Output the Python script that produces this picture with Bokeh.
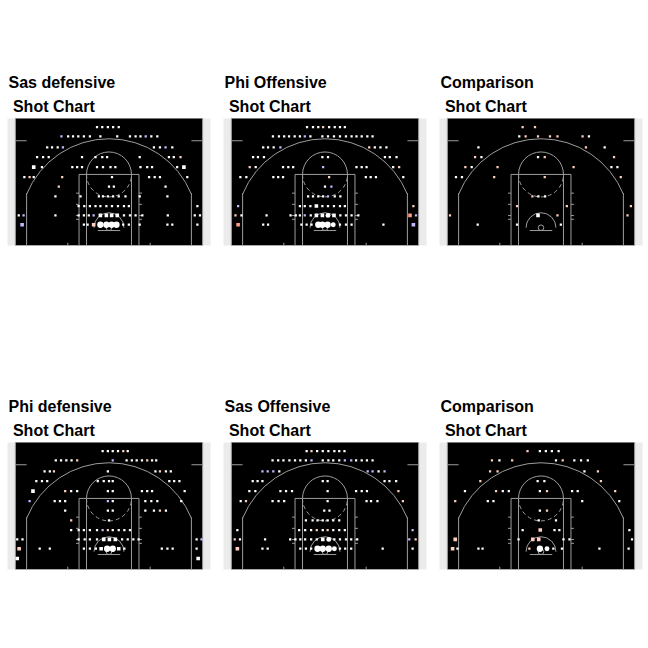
import numpy as np
import pandas as pd
from bokeh.plotting import figure
from bokeh.layouts import gridplot
from bokeh.models import ColumnDataSource, LinearColorMapper, Range1d, CDSView, BooleanFilter
from bokeh.transform import transform
from bokeh.embed import file_html
from bokeh.resources import INLINE

# ---------------- data ----------------
TITLES = ["Sas defensive", "Phi Offensive", "Comparison",
          "Phi defensive", "Sas Offensive", "Comparison"]
SUBTITLE = "Shot Chart"

# each point: (x, y, n, e)
# x, y : bin centre in tenths of feet from the hoop
# n    : relative shot volume (1 = few ... 4 = many)
# e    : efficiency class (-1 below, 0 average, 1 above, 2 well above)
SAS_DEF = [
    (-32, 269, 1, 0), (-18, 269, 1, 0), (-3, 269, 1, 0), (11, 269, 1, 0), (26, 269, 1, 0),
    (-127, 244, 1, -1), (-109, 244, 1, 0), (-96, 244, 1, 0), (-82, 244, 1, 0), (-67, 244, 1, 0),
    (-51, 244, 1, 0), (-23, 244, 1, 0), (22, 244, 1, 0), (56, 244, 1, 0), (71, 244, 1, 0),
    (84, 244, 1, 0), (98, 244, 1, -1), (113, 244, 1, 0), (129, 244, 1, 0),
    (-165, 215, 1, 0), (-152, 215, 1, 0), (-137, 215, 1, 0), (-123, 215, 1, -1),
    (120, 215, 1, 0), (136, 215, 1, 0), (151, 215, 1, -1), (169, 215, 1, 0),
    (-192, 189, 1, 0), (-176, 189, 1, 0), (-161, 189, 1, 0), (-72, 189, 1, 0), (-36, 189, 1, 0),
    (-18, 189, 1, 0), (-5, 189, 1, 0), (82, 189, 1, 0), (160, 189, 1, 0), (173, 189, 1, 0),
    (191, 189, 1, 1),
    (-201, 162, 2, 0), (-179, 162, 1, 0), (-98, 162, 1, 0), (-85, 162, 1, 0), (-72, 162, 1, 0),
    (-32, 162, 1, 0), (-16, 162, 1, 0), (4, 162, 1, 0), (17, 162, 1, 0), (84, 162, 1, 0),
    (102, 162, 1, 0), (115, 162, 1, 0), (182, 162, 1, 0), (200, 162, 2, 0),
    (-226, 135, 1, 0), (-212, 135, 1, 1), (-201, 135, 1, 0), (-125, 135, 1, 1), (8, 135, 1, 0),
    (107, 135, 1, 0), (122, 135, 1, 0), (136, 135, 1, 0), (209, 135, 1, 0),
    (-134, 110, 1, 1), (0, 110, 1, 0), (13, 110, 1, 0), (151, 110, 1, 0),
    (-143, 84, 1, 0), (-76, 84, 1, 0), (-27, 84, 1, 0), (-16, 84, 1, 0), (-3, 84, 1, 0),
    (11, 84, 1, 0), (26, 84, 1, 0), (44, 84, 1, 0), (82, 84, 1, 0), (156, 84, 1, 0),
    (-81, 58, 1, 0), (-66, 58, 1, 0), (-51, 58, 1, 0), (-36, 58, 1, 0), (-23, 58, 1, 0),
    (-7, 58, 1, 0), (8, 58, 1, 0), (24, 58, 1, 0), (40, 58, 1, 0), (53, 58, 1, 0), (236, 58, 1, 0),
    (-241, 33, 1, 0), (-228, 33, 1, -1), (-143, 33, 1, 0), (-81, 33, 1, 0), (-67, 33, 1, 0),
    (-54, 33, 1, 0), (-41, 33, 1, -1), (-23, 33, 2, 0), (-7, 33, 2, 0), (7, 33, 2, 0),
    (22, 33, 2, 0), (40, 33, 1, 0), (56, 33, 1, 0), (71, 33, 1, 0), (89, 33, 1, 0),
    (157, 33, 1, 0), (229, 33, 1, 0), (243, 33, 1, 0),
    (-232, 8, 2, -1), (-67, 8, 1, 0), (-57, 8, 1, 0), (-41, 8, 2, 1), (-23, 8, 4, 0),
    (-7, 8, 4, 0), (7, 8, 4, 0), (20, 8, 4, 0), (38, 8, 1, 0), (53, 8, 1, 0), (82, 8, 1, 0),
    (156, 8, 1, 0), (169, 8, 1, 0), (236, 8, 1, 0),
]

PHI_OFF = [
    (-48, 269, 1, 0), (-32, 269, 1, 0), (-18, 269, 1, 0), (-5, 269, 1, 1), (11, 269, 1, 0),
    (26, 269, 1, 0), (40, 269, 1, 0), (53, 269, 1, 0),
    (-139, 244, 1, 0), (-123, 244, 1, 0), (-109, 244, 1, 0), (-96, 244, 1, 0), (-81, 244, 1, 0),
    (-67, 244, 1, 0), (-54, 244, 1, -1), (-39, 244, 1, 0), (-7, 244, 1, 0), (8, 244, 1, 0),
    (24, 244, 1, 0), (40, 244, 1, 0), (56, 244, 1, 0), (71, 244, 1, 0), (84, 244, 1, 0),
    (98, 244, 1, 0), (113, 244, 1, 0), (127, 244, 1, 0),
    (-165, 215, 1, 0), (-152, 215, 1, 0), (-137, 215, 1, 0), (-119, 215, 1, -1),
    (118, 215, 1, 1), (133, 215, 1, 0), (148, 215, 1, 0), (164, 215, 1, 0),
    (-192, 189, 1, 0), (-179, 189, 1, 0), (-163, 189, 1, 0), (-7, 189, 1, 0), (8, 189, 1, 0),
    (160, 189, 1, 0), (173, 189, 1, 0), (191, 189, 1, 0),
    (-201, 162, 1, 1), (-185, 162, 1, 0), (-112, 162, 1, 0), (-98, 162, 1, 0), (-85, 162, 1, 0),
    (-5, 162, 1, -1), (84, 162, 1, 0), (98, 162, 1, 0), (111, 162, 1, 0), (182, 162, 1, 0),
    (198, 162, 1, 1),
    (-226, 135, 1, 0), (-210, 135, 1, 0), (-138, 135, 1, 0), (-125, 135, 1, 0), (-112, 135, 1, 0),
    (11, 135, 1, 1), (109, 135, 1, 0), (122, 135, 1, 0), (136, 135, 1, 0), (209, 135, 1, 0),
    (0, 110, 1, 0), (17, 110, 1, -1),
    (-45, 84, 1, 0), (-32, 84, 1, 0), (-18, 84, 1, 0), (-5, 84, 1, 0), (8, 84, 1, -1),
    (26, 84, 1, 0), (41, 84, 1, 0),
    (-232, 58, 1, -1), (-67, 58, 1, 0), (-54, 58, 1, 0), (-39, 58, 1, 0), (-23, 58, 2, 0),
    (-7, 58, 1, 0), (8, 58, 1, 0), (24, 58, 1, 0), (40, 58, 1, 0), (53, 58, 1, 0), (236, 58, 1, 1),
    (-239, 33, 1, 1), (-223, 33, 1, 0), (-156, 33, 1, 0), (-92, 33, 1, 0), (-78, 33, 1, 0),
    (-67, 33, 1, 0), (-54, 33, 1, -1), (-38, 33, 1, 0), (-23, 33, 2, 0), (-7, 33, 2, 0),
    (8, 33, 3, 0), (24, 33, 2, 0), (41, 33, 1, 0), (56, 33, 1, 0), (71, 33, 1, 0), (89, 33, 1, 0),
    (227, 33, 2, 2), (243, 33, 1, -1),
    (-232, 8, 2, 2), (-165, 8, 1, 0), (-152, 8, 1, 0), (-63, 8, 1, 0), (-49, 8, 1, 0),
    (-36, 8, 1, 0), (-18, 8, 4, 0), (-7, 8, 4, 0), (7, 8, 4, 0), (22, 8, 3, 0), (40, 8, 1, 0),
    (56, 8, 1, 0), (71, 8, 1, 0), (156, 8, 1, 0), (236, 8, 2, -1),
]

CMP_1 = [
    (-49, 269, 1, 1), (-16, 269, 1, 1),
    (-58, 244, 1, 0), (-41, 244, 1, 1), (-8, 244, 1, 1), (24, 244, 1, 1), (44, 244, 1, 1),
    (111, 244, 1, 1), (128, 244, 1, 0),
    (-167, 215, 1, 0), (120, 215, 1, 1), (170, 215, 1, 0),
    (-176, 189, 1, 1), (-159, 189, 1, 0), (-8, 189, 1, 0), (10, 189, 1, 1), (195, 189, 1, 1),
    (-202, 162, 1, 1), (-185, 162, 1, 0), (-116, 162, 1, 1), (87, 162, 1, 1), (188, 162, 1, 0),
    (204, 162, 1, 0),
    (-227, 135, 1, 0), (-211, 135, 1, 0), (-125, 135, 1, 1), (10, 135, 1, 1), (213, 135, 1, 1),
    (-23, 84, 1, 1), (-7, 84, 1, 0), (11, 84, 1, 0),
    (-64, 58, 1, 1), (69, 58, 1, 1), (240, 58, 1, 1),
    (-243, 33, 1, 1), (-8, 33, 2, 0), (44, 33, 1, 1), (231, 33, 1, 1),
    (-169, 8, 1, 0), (-64, 8, 1, 0), (53, 8, 1, 0),
]

PHI_DEF = [
    (-17, 269, 1, 0), (-3, 269, 1, 0), (10, 269, 1, 0), (24, 269, 1, 0), (38, 269, 1, 1),
    (50, 269, 1, 0),
    (-142, 244, 1, 0), (-128, 244, 1, 0), (-114, 244, 1, 0), (-100, 244, 1, 0), (-85, 244, 1, 1),
    (10, 244, 1, -1), (47, 244, 1, 0), (61, 244, 1, 0), (74, 244, 1, 0), (88, 244, 1, 0),
    (102, 244, 1, 1), (115, 244, 1, 0), (126, 244, 1, 0),
    (-172, 215, 1, 0), (-158, 215, 1, 0), (-147, 215, 1, 1), (-3, 215, 1, 0), (124, 215, 1, 0),
    (136, 215, 1, 1), (152, 215, 1, 0), (165, 215, 1, 0),
    (-194, 189, 1, 0), (-179, 189, 1, 0), (-165, 189, 1, 0), (-30, 189, 1, 0), (-14, 189, 1, 0),
    (0, 189, 1, 0), (10, 189, 1, 0), (161, 189, 1, 0), (174, 189, 1, 0), (188, 189, 1, 0),
    (-203, 162, 2, 0), (-117, 162, 1, 1), (-101, 162, 1, 0), (-85, 162, 1, 0), (-3, 162, 1, 0),
    (10, 162, 1, 0), (88, 162, 1, 0), (102, 162, 1, 0), (115, 162, 1, 0), (202, 162, 1, 0),
    (-212, 135, 1, -1), (-145, 135, 1, 0), (-131, 135, 1, 0), (-117, 135, 1, 0), (-3, 135, 1, -1),
    (10, 135, 1, 0), (97, 135, 1, 0), (113, 135, 1, 0), (129, 135, 1, 0), (193, 135, 1, 0),
    (-117, 110, 1, 0), (-3, 110, 1, 0), (10, 110, 1, 0), (97, 110, 1, 0), (120, 110, 1, 0),
    (136, 110, 1, 1), (152, 110, 1, 0),
    (-101, 84, 1, 1), (0, 84, 1, 0),
    (-101, 58, 1, 0), (-81, 58, 1, 0), (-67, 58, 1, 0), (-51, 58, 1, 0), (-32, 58, 1, 0),
    (-17, 58, 1, -1), (-3, 58, 1, 1), (10, 58, 1, 0), (26, 58, 1, 0), (41, 58, 1, 0), (56, 58, 1, 0),
    (-245, 33, 1, 0), (-231, 33, 1, 0), (-81, 33, 1, 0), (-65, 33, 1, 0), (-51, 33, 1, 0),
    (-32, 33, 1, 0), (-14, 33, 2, 0), (1, 33, 2, 0), (17, 33, 2, 0), (35, 33, 1, 0),
    (50, 33, 1, 0), (65, 33, 1, 0), (79, 33, 1, 0), (234, 33, 1, 0), (247, 33, 1, -1),
    (-240, 8, 2, 1), (-185, 8, 1, 0), (-158, 8, 1, 0), (-67, 8, 1, 0), (-51, 8, 1, 0),
    (-35, 8, 1, 0), (-21, 8, 2, 0), (-5, 8, 4, 0), (10, 8, 4, 0), (26, 8, 2, 0), (41, 8, 1, 0),
    (141, 8, 1, 0), (156, 8, 1, 0), (170, 8, 1, 0), (234, 8, 1, 0),
    (-245, -18, 2, 0), (238, -18, 2, 0),
]

SAS_OFF = [
    (-49, 269, 1, 0), (-36, 269, 1, 1), (-21, 269, 1, 0), (-6, 269, 1, 0), (9, 269, 1, 0),
    (25, 269, 1, 0), (38, 269, 1, 0), (52, 269, 1, 0),
    (-140, 244, 1, 0), (-125, 244, 1, 0), (-111, 244, 1, 0), (-95, 244, 1, 0), (-80, 244, 1, 0),
    (-66, 244, 1, 0), (-51, 244, 1, 0), (-36, 244, 1, -1), (-6, 244, 1, 0), (9, 244, 1, 0),
    (22, 244, 1, 0), (38, 244, 1, 0), (53, 244, 1, -1), (70, 244, 1, -1), (83, 244, 1, 0),
    (98, 244, 1, 0), (112, 244, 1, 0), (127, 244, 1, 0),
    (-167, 215, 1, -1), (-153, 215, 1, -1), (-138, 215, 1, -1), (-122, 215, 1, 0),
    (114, 215, 1, -1), (127, 215, 1, -1), (143, 215, 1, 0), (159, 215, 1, -1),
    (-193, 189, 1, 0), (-180, 189, 1, 0), (-167, 189, 1, 0), (-6, 189, 1, 0), (7, 189, 1, 0),
    (159, 189, 1, 0), (172, 189, 1, 0), (190, 189, 1, 0),
    (-202, 162, 1, 0), (-186, 162, 1, 0), (-119, 162, 1, 0), (-104, 162, 1, 0), (-88, 162, 1, 0),
    (7, 162, 1, 0), (83, 162, 1, 0), (98, 162, 1, 0), (112, 162, 1, 0), (196, 162, 1, 1),
    (-225, 135, 1, 0), (-211, 135, 1, 1), (-140, 135, 1, 0), (-124, 135, 1, 0), (-109, 135, 1, 0),
    (7, 135, 1, 0), (111, 135, 1, 0), (123, 135, 1, 0), (140, 135, 1, 0), (208, 135, 1, 1),
    (-2, 110, 1, 0), (12, 110, 1, 0),
    (-51, 84, 1, 0), (-33, 84, 1, 0), (-20, 84, 1, 0), (-6, 84, 1, 0), (7, 84, 1, 0),
    (22, 84, 1, 0), (38, 84, 1, 0),
    (-234, 58, 1, 0), (-69, 58, 1, 0), (-53, 58, 1, 0), (-37, 58, 1, 0), (-22, 58, 1, 1),
    (-6, 58, 1, 0), (7, 58, 1, 1), (22, 58, 1, 0), (38, 58, 1, 0), (53, 58, 1, 0), (234, 58, 1, -1),
    (-241, 33, 1, 1), (-227, 33, 1, 0), (-160, 33, 1, 0), (-93, 33, 1, 0), (-79, 33, 1, 0),
    (-66, 33, 1, 0), (-53, 33, 1, 0), (-37, 33, 1, 0), (-22, 33, 1, 0), (-6, 33, 2, 0),
    (10, 33, 3, 0), (25, 33, 1, 0), (40, 33, 1, 0), (56, 33, 1, 0), (70, 33, 1, 0), (86, 33, 1, 0),
    (225, 33, 1, -1), (242, 33, 1, 1),
    (-234, 8, 2, 1), (-167, 8, 1, 0), (-153, 8, 1, 0), (-66, 8, 1, 0), (-51, 8, 1, 0),
    (-37, 8, 1, 0), (-20, 8, 4, 0), (-6, 8, 4, 0), (10, 8, 4, 0), (25, 8, 3, 0), (40, 8, 1, 0),
    (54, 8, 1, 0), (70, 8, 1, 0), (154, 8, 1, 0), (234, 8, 1, 0),
]

CMP_2 = [
    (-36, 269, 1, 1), (-3, 269, 1, 0), (13, 269, 1, 0), (29, 269, 1, 0), (47, 269, 1, 0),
    (-131, 244, 1, 1), (-111, 244, 1, 0), (-77, 244, 1, 1), (40, 244, 1, 0), (58, 244, 1, 1),
    (89, 244, 1, 0), (107, 244, 1, 0), (125, 244, 1, 0),
    (-136, 215, 1, 1), (-116, 215, 1, 1), (116, 215, 1, 0), (152, 215, 1, 1),
    (-162, 189, 1, 1), (-9, 189, 1, 0), (9, 189, 1, 0), (160, 189, 1, 1),
    (-203, 162, 1, 0), (-120, 162, 1, 1), (-102, 162, 1, 0), (-86, 162, 1, 0), (-3, 162, 1, 0),
    (16, 162, 1, 1), (83, 162, 1, 0), (98, 162, 1, 0), (198, 162, 1, 1),
    (-229, 135, 1, 1), (-142, 135, 1, 0), (-127, 135, 1, 0), (110, 135, 1, 0), (209, 135, 1, 0),
    (-3, 110, 1, 0), (16, 110, 1, 1),
    (-6, 84, 1, 0), (40, 84, 1, 0),
    (-49, 58, 1, 0), (-2, 58, 2, 1), (36, 58, 1, 0), (49, 58, 1, 0), (236, 58, 1, 0),
    (-229, 33, 2, 1), (-60, 33, 1, 0), (-22, 33, 2, 1), (-6, 33, 2, 1), (60, 33, 1, 0),
    (76, 33, 1, 0), (243, 33, 1, 0),
    (-236, 8, 2, 1), (-223, 8, 1, 0), (-167, 8, 1, 0), (-156, 8, 1, 0), (-31, 8, 1, 1),
    (-3, 8, 4, 0), (16, 8, 3, 0), (33, 8, 1, 0), (56, 8, 1, 0), (156, 8, 1, 0), (234, 8, 1, 0),
]

PANELS = [SAS_DEF, PHI_OFF, CMP_1, PHI_DEF, SAS_OFF, CMP_2]

# efficiency classes -> colours
EFF_PALETTE = ["#c4b8ff", "#ffffff", "#ffcdbd", "#ff9e80"]

# ---------------- court ----------------
LINE = "#9c9c9c"


def draw_court(p):
    p.quad(left=-250, right=250, bottom=-47.5, top=422.5,
           fill_color="black", line_color=None)
    segs_x, segs_y = [], []

    def seg(x0, y0, x1, y1):
        segs_x.append([x0, x1])
        segs_y.append([y0, y1])

    seg(-250, -47.5, 250, -47.5)
    seg(-250, -47.5, -250, 422.5)
    seg(250, -47.5, 250, 422.5)
    seg(-220, -47.5, -220, 92.5)
    seg(220, -47.5, 220, 92.5)
    seg(-80, -47.5, -80, 142.5)
    seg(80, -47.5, 80, 142.5)
    seg(-80, 142.5, 80, 142.5)
    seg(-60, -47.5, -60, 142.5)
    seg(60, -47.5, 60, 142.5)
    seg(-30, -7.5, 30, -7.5)
    seg(-250, 232.5, -220, 232.5)
    seg(220, 232.5, 250, 232.5)
    for yy in (22.5, 32.5, 62.5, 92.5):
        seg(-88, yy, -80, yy)
        seg(80, yy, 88, yy)
    seg(-110, -47.5, -110, -40)
    seg(110, -47.5, 110, -40)
    p.multi_line(segs_x, segs_y, line_color=LINE, line_width=1)

    p.circle(x=0, y=0, radius=7.5, fill_color=None, line_color=LINE, line_width=1)
    p.arc(x=0, y=0, radius=40, start_angle=0, end_angle=np.pi,
          line_color=LINE, line_width=1)
    p.arc(x=0, y=142.5, radius=60, start_angle=0, end_angle=np.pi,
          line_color=LINE, line_width=1)
    p.arc(x=0, y=142.5, radius=60, start_angle=np.pi, end_angle=2 * np.pi,
          line_color=LINE, line_width=1, line_dash="4 3")
    a = np.arccos(220 / 237.5)
    p.arc(x=0, y=0, radius=237.5, start_angle=a, end_angle=np.pi - a,
          line_color=LINE, line_width=1)


def make_panel(title, pts):
    df = pd.DataFrame(pts, columns=["x", "y", "n", "e"])
    df["sz"] = 0.9 + 1.35 * df["n"]
    src = ColumnDataSource(df)
    mapper = LinearColorMapper(palette=EFF_PALETTE, low=-1.5, high=2.5)

    p = figure(width=216, height=324, output_backend="svg", toolbar_location=None,
               x_range=Range1d(-271, 271), y_range=Range1d(-47.5, 292),
               x_axis_location=None, y_axis_location=None,
               min_border_left=7, min_border_right=6,
               min_border_top=118, min_border_bottom=79)
    p.grid.visible = False
    p.outline_line_color = None
    p.background_fill_color = "#ebebeb"
    p.border_fill_color = "white"

    p.title.text = title + "\n\u00a0" + SUBTITLE
    p.title.text_font = "Liberation Sans"
    p.title.text_font_size = "16px"
    p.title.text_font_style = "bold"
    p.title.text_color = "black"
    p.title.align = "left"
    p.title.offset = 1
    p.title.text_line_height = 1.45
    p.title.standoff = 6

    draw_court(p)
    small = BooleanFilter([bool(v < 3) for v in df["n"]])
    large = BooleanFilter([bool(v >= 3) for v in df["n"]])
    p.scatter(x="x", y="y", size="sz", source=src, view=CDSView(filter=small),
              marker="square", fill_color=transform("e", mapper), line_color=None)
    p.scatter(x="x", y="y", size="sz", source=src, view=CDSView(filter=large),
              marker="circle", fill_color=transform("e", mapper), line_color=None)
    return p


figs = [make_panel(t, d) for t, d in zip(TITLES, PANELS)]
grid = gridplot([figs[:3], figs[3:]], toolbar_location=None)

open("out.html", "w").write(file_html(grid, INLINE))
